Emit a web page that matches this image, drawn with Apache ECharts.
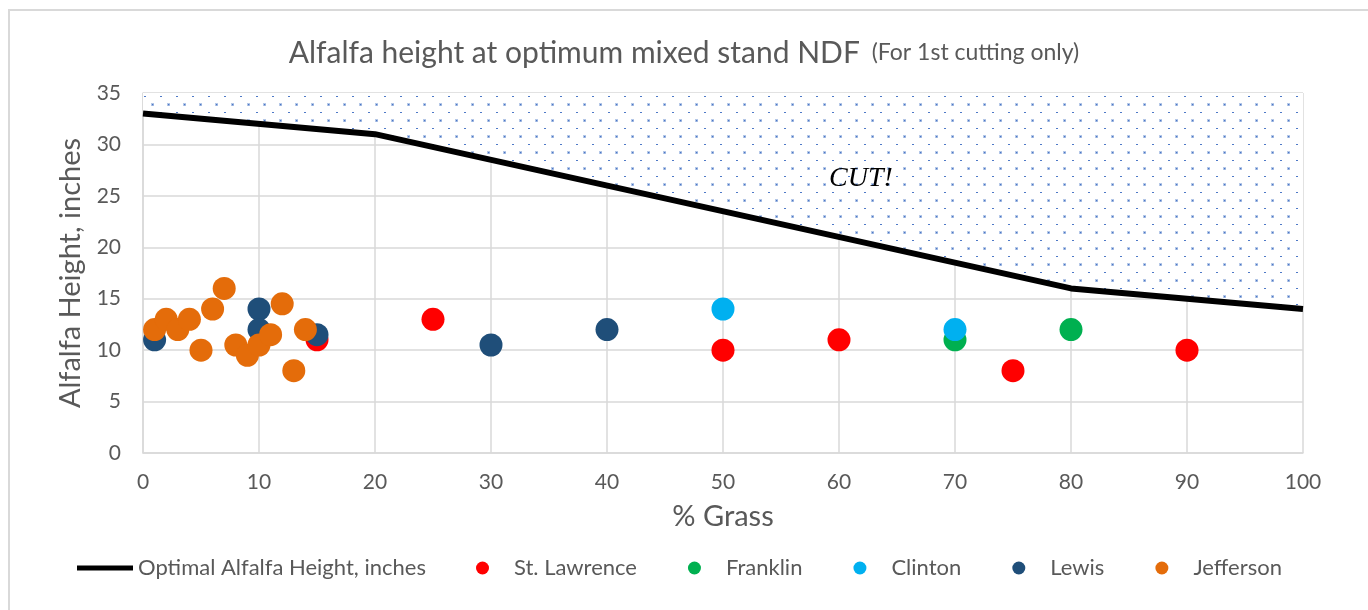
<!DOCTYPE html>
<html>
<head>
<meta charset="utf-8">
<script src="https://cdn.jsdelivr.net/npm/echarts@6/dist/echarts.min.js"></script>
<style>
html,body{margin:0;padding:0;background:#fff;}
#chart{width:1368px;height:610px;}
</style>
</head>
<body>
<div id="chart"></div>
<script>
// ---- data ----
const xTicks = [0,10,20,30,40,50,60,70,80,90,100];
const yTicks = [0,5,10,15,20,25,30,35];
const optimalLine = [[0,33],[20,31],[80,16],[100,14]];
const stLawrence = [[15,11],[25,13],[50,10],[60,11],[75,8],[90,10]];
const franklin = [[70,11],[80,12]];
const clinton = [[50,14],[70,12]];
const lewis = [[1,11],[10,14],[10,12],[15,11.5],[30,10.5],[40,12]];
const jefferson = [[1,12],[2,13],[3,12],[4,13],[5,10],[6,14],[7,16],[8,10.5],[9,9.5],[10,10.5],[11,11.5],[12,14.5],[13,8],[14,12]];
const seriesNames = ['Optimal Alfalfa Height, inches','St. Lawrence','Franklin','Clinton','Lewis','Jefferson'];

// ---- pattern for the CUT zone ----
const pat = document.createElement('canvas');
pat.width = 16; pat.height = 16;
const pc = pat.getContext('2d');
pc.fillStyle = '#ffffff'; pc.fillRect(0,0,16,16);
pc.fillStyle = 'rgba(68,114,196,0.4)';
pc.fillRect(7,7,3,3);
pc.fillStyle = 'rgba(68,114,196,0.95)';
pc.fillRect(8,8,1.3,1.3);
pc.fillRect(0,0,2,1);

const fontFam = 'Lato, "Open Sans", sans-serif';
const txt = '#595959';

const chart = echarts.init(document.getElementById('chart'));
const scatterCommon = { type:'scatter', symbol:'circle', symbolSize:23, z:3 };
chart.setOption({
  animation:false,
  textStyle:{fontFamily:fontFam},
  title:{
    text:'{a|Alfalfa height at optimum mixed stand NDF}{b|  (For 1st cutting only)}',
    left:'center', top:33,
    textStyle:{
      fontWeight:'normal',
      rich:{
        a:{fontSize:30, color:txt, fontFamily:fontFam, fontWeight:'normal'},
        b:{fontSize:23, color:txt, fontFamily:fontFam, fontWeight:'normal'}
      }
    }
  },
  grid:{left:143,right:65,top:93,bottom:157,outerBoundsMode:'none'},
  legend:[
    {
      data:[{name:seriesNames[0], icon:'rect'}], left:72, top:552, itemWidth:56, itemHeight:5, itemGap:0,
      textStyle:{fontSize:22,color:txt,fontFamily:fontFam}
    },
    {
      data:seriesNames.slice(1), left:471, top:552, itemWidth:13, itemHeight:13, itemGap:51,
      textStyle:{fontSize:22,color:txt,fontFamily:fontFam,padding:[0,0,0,20]}
    }
  ],
  xAxis:{
    type:'value', min:xTicks[0], max:xTicks[xTicks.length-1], interval:xTicks[1]-xTicks[0],
    name:'% Grass', nameLocation:'middle', nameGap:49,
    nameTextStyle:{fontSize:29,color:txt,fontFamily:fontFam},
    axisLine:{show:true,lineStyle:{color:'#d9d9d9',width:1.5}},
    axisTick:{show:false},
    axisLabel:{fontSize:21,color:txt,margin:19,fontFamily:fontFam},
    splitLine:{show:true,lineStyle:{color:'#d9d9d9',width:1.5}}
  },
  yAxis:{
    type:'value', min:yTicks[0], max:yTicks[yTicks.length-1], interval:yTicks[1]-yTicks[0],
    name:'Alfalfa Height, inches', nameLocation:'middle', nameGap:58,
    nameTextStyle:{fontSize:29,color:txt,fontFamily:fontFam},
    axisLine:{show:true,lineStyle:{color:'#d9d9d9',width:1.5}},
    axisTick:{show:false},
    axisLabel:{fontSize:21,color:txt,margin:22,fontFamily:fontFam},
    splitLine:{show:true,lineStyle:{color:'#d9d9d9',width:1.5}}
  },
  graphic:[
    {type:'rect', shape:{x:9,y:10,width:1400,height:700}, style:{fill:'none',stroke:'#d9d9d9',lineWidth:2}, silent:true},
    {type:'text', left:829, top:165, style:{text:'CUT!', font:'italic 28px "Liberation Serif", serif', fill:'#000'}, z:10}
  ],
  series:[
    {
      name:seriesNames[0], type:'line', data:optimalLine, symbol:'none', z:4,
      lineStyle:{color:'#000',width:6},
      itemStyle:{color:'#000'},
      areaStyle:{origin:'end', color:{image:pat, repeat:'repeat'}, opacity:1}
    },
    Object.assign({}, scatterCommon, {name:seriesNames[1], data:stLawrence, itemStyle:{color:'#FF0000',opacity:1}}),
    Object.assign({}, scatterCommon, {name:seriesNames[2], data:franklin, itemStyle:{color:'#00B050',opacity:1}}),
    Object.assign({}, scatterCommon, {name:seriesNames[3], data:clinton, itemStyle:{color:'#00B0F0',opacity:1}}),
    Object.assign({}, scatterCommon, {name:seriesNames[4], data:lewis, itemStyle:{color:'#1F4E79',opacity:1}}),
    Object.assign({}, scatterCommon, {name:seriesNames[5], data:jefferson, itemStyle:{color:'#E46C0A',opacity:1}})
  ]
});
</script>
</body>
</html>
